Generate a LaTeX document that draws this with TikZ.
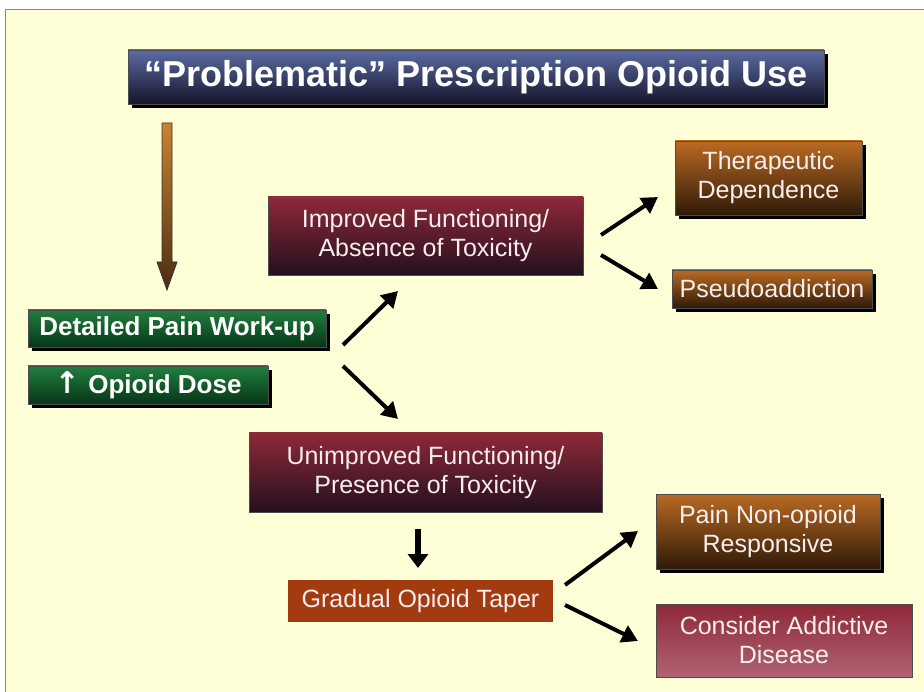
\documentclass[tikz,border=0pt]{standalone}
\usepackage{fontspec}
\setmainfont{Liberation Sans}
\newfontfamily\arrowfont{DejaVu Sans}
\usetikzlibrary{shadows,arrows.meta}
\definecolor{bgy}{HTML}{FFFFD7}
\definecolor{frame}{HTML}{8A8A7A}
\definecolor{titletop}{HTML}{5B6BA3}
\definecolor{titlebot}{HTML}{15152A}
\definecolor{grtop}{HTML}{217F3E}
\definecolor{grbot}{HTML}{073518}
\definecolor{martop}{HTML}{8E2838}
\definecolor{marbot}{HTML}{24101E}
\definecolor{brtop}{HTML}{BA6A22}
\definecolor{brbot}{HTML}{2E1A08}
\definecolor{pinkbot}{HTML}{B06373}
\definecolor{rust}{HTML}{A33A10}
\definecolor{arrtop}{HTML}{C98530}
\definecolor{arrbot}{HTML}{4A2C12}
\definecolor{paletext}{HTML}{F6EEEE}
\tikzset{
  box/.style={rectangle, draw=black!70, line width=0.8pt, text=paletext, align=center, inner sep=2pt,
    font=\fontsize{25}{29}\selectfont},
  shad/.style={drop shadow={shadow xshift=4pt, shadow yshift=-4pt, opacity=1, fill=black}},
  titlebox/.style={box, shad, text=white, top color=titletop, bottom color=titlebot, font=\bfseries\fontsize{36}{40}\selectfont},
  greenbox/.style={box, shad, text=white, top color=grtop, bottom color=grbot, font=\bfseries\fontsize{26}{29}\selectfont},
  marbox/.style={box, top color=martop, bottom color=marbot},
  brbox/.style={box, shad, top color=brtop, bottom color=brbot},
  pinkbox/.style={box, top color=martop, bottom color=pinkbot},
  rustbox/.style={box, fill=rust, draw=none},
  arr/.style={line width=4pt, -{Triangle[length=16pt,width=18pt]}},
}
\begin{document}
\begin{tikzpicture}[x=1pt,y=-1pt]
\useasboundingbox (0,0) rectangle (924,692);
\fill[white] (0,0) rectangle (924,692);
\fill[bgy] (5,10) rectangle (930,700);
\draw[frame, line width=1pt] (5,700) -- (5,10) -- (930,10);

\node[titlebox, minimum width=696pt, minimum height=54pt] (title) at (476,77) {“Problematic” Prescription Opioid Use};

% big brown arrow
\shade[top color=arrtop, bottom color=arrbot, draw=black!80, line width=0.8pt]
  (162,123) -- (172,123) -- (172,262) -- (177,262) -- (167,290) -- (157,262) -- (162,262) -- cycle;

\node[greenbox, minimum width=298pt, minimum height=37pt] (work) at (177,328.5) {Detailed Pain Work-up};
\node[greenbox, minimum width=240pt, minimum height=38pt] (dose) at (148,385) {{\arrowfont\bfseries\fontsize{30}{30}\selectfont ↑}\,\,Opioid Dose};

\node[marbox, minimum width=315pt, minimum height=78pt] (impr) at (425.5,236) {Improved Functioning/\\Absence of Toxicity};
\node[marbox, minimum width=353pt, minimum height=79pt] (unimpr) at (425.5,472.5) {Unimproved Functioning/\\Presence of Toxicity};

\node[brbox, minimum width=187pt, minimum height=74pt] (ther) at (768.5,178) {Therapeutic\\Dependence};
\node[brbox, minimum width=200pt, minimum height=38pt] (pseudo) at (772,289) {Pseudoaddiction};
\node[brbox, minimum width=224pt, minimum height=75pt] (pain) at (768,531.5) {Pain Non-opioid\\Responsive};
\node[pinkbox, minimum width=256pt, minimum height=73pt] (cons) at (784,640.5) {Consider Addictive\\Disease};
\node[rustbox, minimum width=265pt, minimum height=42pt] (taper) at (420.5,601) {Gradual Opioid Taper};

% connector endpoints
\coordinate (a1s) at (343,345); \coordinate (a1e) at (398,291);
\coordinate (a2s) at (343,366); \coordinate (a2e) at (398,419);
\coordinate (a3s) at (601,235); \coordinate (a3e) at (658,197);
\coordinate (a4s) at (601,255); \coordinate (a4e) at (658,289);
\coordinate (a5s) at (418,529); \coordinate (a5e) at (418,568);
\coordinate (a6s) at (565,585); \coordinate (a6e) at (638,531);
\coordinate (a7s) at (565,605); \coordinate (a7e) at (638,641);

\draw[arr] (a1s) -- (a1e);
\draw[arr] (a2s) -- (a2e);
\draw[arr] (a3s) -- (a3e);
\draw[arr] (a4s) -- (a4e);
\draw[line width=6pt, -{Triangle[length=14pt,width=20pt]}] (a5s) -- (a5e);
\draw[arr] (a6s) -- (a6e);
\draw[arr] (a7s) -- (a7e);
\end{tikzpicture}
\end{document}
